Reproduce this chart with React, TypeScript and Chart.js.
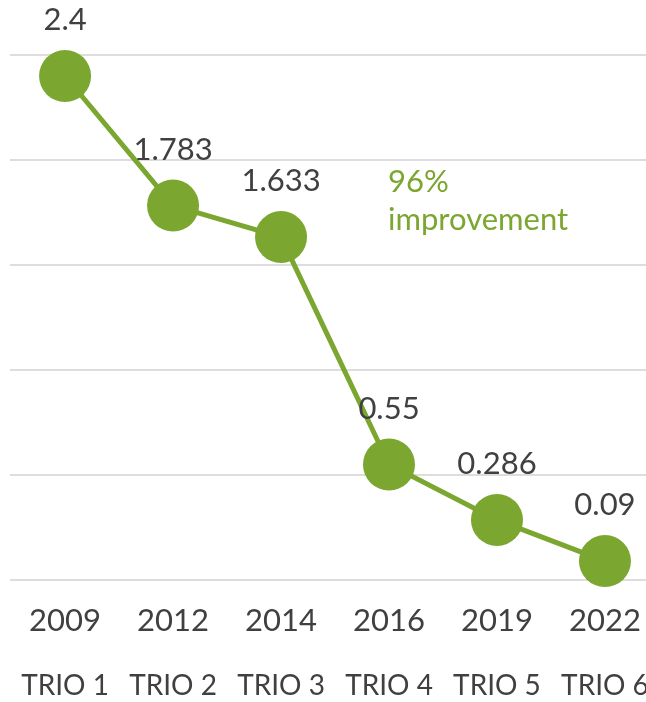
import React, { useEffect, useRef } from "react";
import { Chart, registerables } from "chart.js";

Chart.register(...registerables);

const years = ["2009", "2012", "2014", "2016", "2019", "2022"];
const trios = ["TRIO 1", "TRIO 2", "TRIO 3", "TRIO 4", "TRIO 5", "TRIO 6"];
const values = [2.4, 1.783, 1.633, 0.55, 0.286, 0.09];
const valueLabels = ["2.4", "1.783", "1.633", "0.55", "0.286", "0.09"];
const annotationLines = ["96%", "improvement"];

const GREEN = "#7BA62F";
const TEXT = "#404040";
const FONT = "Lato, 'Open Sans', sans-serif";

export default function App() {
  const ref = useRef<HTMLCanvasElement | null>(null);

  useEffect(() => {
    document.body.style.margin = "0";
    const canvas = ref.current;
    if (!canvas) return;

    const labelPlugin = {
      id: "valueLabels",
      afterDatasetsDraw(chart: any) {
        const ctx = chart.ctx;
        const meta = chart.getDatasetMeta(0);
        ctx.save();
        ctx.font = `31px ${FONT}`;
        ctx.fillStyle = TEXT;
        ctx.textAlign = "center";
        ctx.textBaseline = "middle";
        meta.data.forEach((pt: any, i: number) => {
          ctx.fillText(valueLabels[i], pt.x, pt.y - 56);
        });
        const xs = chart.scales.x;
        const ys = chart.scales.y;
        const ax = xs.getPixelForValue(2) + 107;
        const ay = ys.getPixelForValue(1.9) + 1;
        ctx.fillStyle = GREEN;
        ctx.textAlign = "left";
        annotationLines.forEach((t, i) => {
          ctx.fillText(t, ax, ay + i * 38);
        });
        ctx.restore();
      },
    };

    const fitX = (h: number) => (s: any) => {
      s.height = h;
      s.paddingLeft = 0;
      s.paddingRight = 0;
    };

    const chart = new Chart(canvas, {
      type: "line",
      data: {
        datasets: [
          {
            data: values.map((v, i) => ({ x: i, y: v })),
            borderColor: GREEN,
            backgroundColor: GREEN,
            borderWidth: 5,
            pointRadius: 26,
            pointHoverRadius: 26,
            pointBorderWidth: 0,
            pointBackgroundColor: GREEN,
            pointBorderColor: GREEN,
            tension: 0,
            xAxisID: "x",
            yAxisID: "y",
          },
        ],
      },
      options: {
        responsive: false,
        animation: false,
        clip: false as any,
        layout: { autoPadding: false, padding: { left: 10, right: 0, top: 55, bottom: 0 } },
        plugins: {
          legend: { display: false },
          tooltip: { enabled: false },
        },
        scales: {
          x: {
            type: "linear",
            position: "bottom",
            min: -0.51,
            max: 5.38,
            grid: { display: false, drawTicks: false },
            border: { display: false },
            ticks: {
              stepSize: 1,
              includeBounds: false,
              autoSkip: false,
              maxRotation: 0,
              padding: 22,
              color: TEXT,
              font: { family: FONT, size: 31 },
              callback: (v: any) =>
                Number.isInteger(v) && v >= 0 && v < years.length ? years[v] : "",
            },
            afterFit: fitX(70),
          },
          x2: {
            type: "linear",
            position: "bottom",
            min: -0.51,
            max: 5.38,
            grid: { display: false, drawTicks: false },
            border: { display: false },
            ticks: {
              stepSize: 1,
              includeBounds: false,
              autoSkip: false,
              maxRotation: 0,
              padding: 19,
              color: TEXT,
              font: { family: FONT, size: 28 },
              callback: (v: any) =>
                Number.isInteger(v) && v >= 0 && v < trios.length ? trios[v] : "",
            },
            afterFit: fitX(52),
          },
          y: {
            type: "linear",
            min: 0,
            max: 2.5,
            grid: { color: "#DDDDDD", lineWidth: 2, drawTicks: false },
            border: { display: false },
            ticks: { stepSize: 0.5, display: false },
            afterFit: (s: any) => {
              s.width = 0;
            },
          },
        },
      },
      plugins: [labelPlugin],
    });

    return () => chart.destroy();
  }, []);

  return (
    <div style={{ width: 646, height: 702 }}>
      <canvas ref={ref} width={646} height={702} />
    </div>
  );
}
